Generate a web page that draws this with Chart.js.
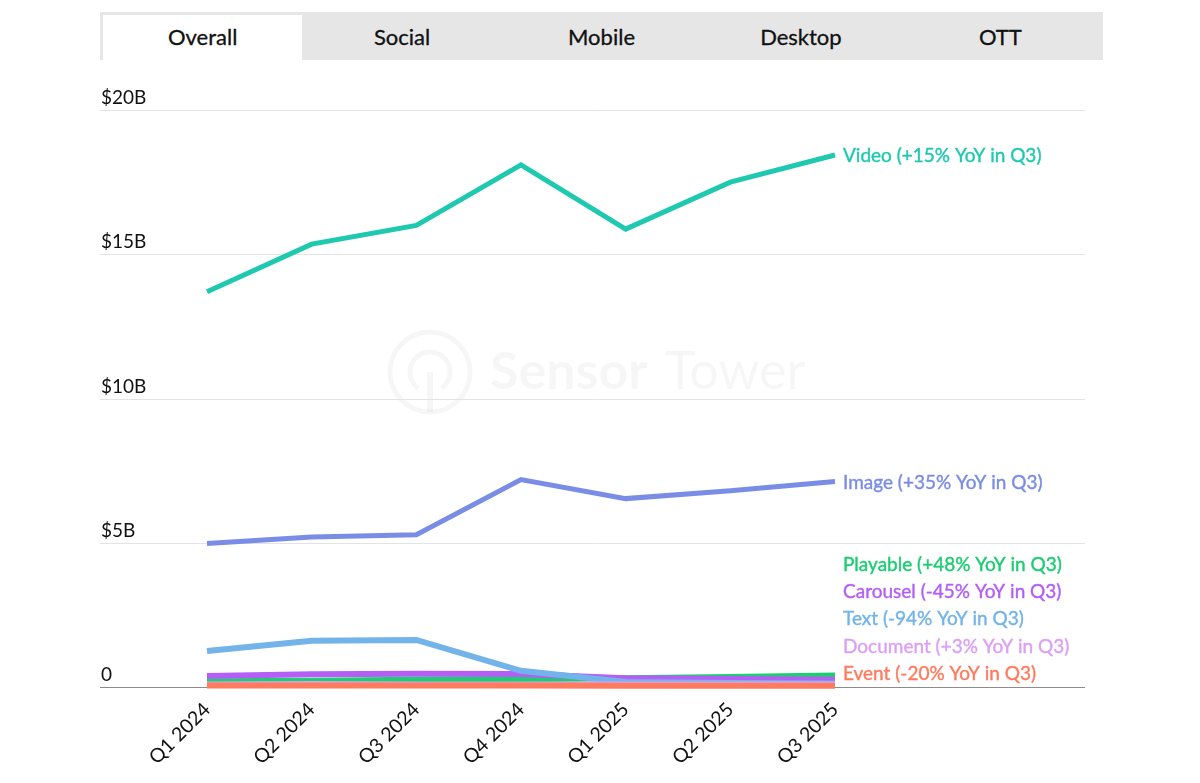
<!DOCTYPE html>
<html>
<head>
<meta charset="utf-8">
<script src="https://cdn.jsdelivr.net/npm/chart.js@4"></script>
<style>
  body { margin: 0; background: #fff; font-family: Lato, "Open Sans", sans-serif; }
  #wrap { position: relative; width: 1200px; height: 783px; }
  #tabs { position: absolute; left: 100px; top: 12px; width: 1003px; height: 48px; background: #e6e6e6; display: flex; box-sizing: border-box; padding: 3px 3px 0 3px; }
  #tabs div { flex: 1; text-align: center; line-height: 43px; font-size: 22px; color: #111; -webkit-text-stroke: 0.3px #111; }
  #tabs div.on { background: #fff; }
</style>
</head>
<body>
<div id="wrap">
  <canvas id="c" width="1200" height="783"></canvas>
  <div id="tabs">
    <div class="on">Overall</div><div>Social</div><div>Mobile</div><div>Desktop</div><div>OTT</div>
  </div>
</div>
<script>
var quarters = ['Q1 2024', 'Q2 2024', 'Q3 2024', 'Q4 2024', 'Q1 2025', 'Q2 2025', 'Q3 2025'];
var yTicks = [0, 5, 10, 15, 20];
var yTickLabels = ['0', '$5B', '$10B', '$15B', '$20B'];

// values in $B
var video    = [13.7, 15.35, 16.0, 18.1, 15.87, 17.5, 18.44];
var image    = [4.97, 5.2, 5.28, 7.19, 6.53, 6.8, 7.12];
var text     = [1.25, 1.6, 1.63, 0.56, 0.17, 0.14, 0.12];
var carousel = [0.38, 0.44, 0.46, 0.45, 0.3, 0.28, 0.25];
var playable = [0.2, 0.22, 0.25, 0.27, 0.3, 0.35, 0.4];
var documnt  = [0.09, 0.1, 0.09, 0.09, 0.09, 0.09, 0.09];
var eventAds = [0.05, 0.05, 0.05, 0.05, 0.04, 0.04, 0.04];

var series = [
  { name: 'Video (+15% YoY in Q3)', data: video, color: '#1fc9b0', w: 5 },
  { name: 'Image (+35% YoY in Q3)', data: image, color: '#7a8de6', w: 5 },
  { name: 'Playable (+48% YoY in Q3)', data: playable, color: '#1ccd72', w: 6 },
  { name: 'Carousel (-45% YoY in Q3)', data: carousel, color: '#b45ef6', w: 6 },
  { name: 'Text (-94% YoY in Q3)', data: text, color: '#72b4e9', w: 6 },
  { name: 'Document (+3% YoY in Q3)', data: documnt, color: '#dc9ff5', w: 6 },
  { name: 'Event (-20% YoY in Q3)', data: eventAds, color: '#ff7b5e', w: 6 }
];

var FONT = 'Lato, "Open Sans", sans-serif';

var gridPlugin = {
  id: 'grid',
  beforeDatasetsDraw: function(chart) {
    var ctx = chart.ctx, y = chart.scales.y;
    ctx.save();
    // watermark
    ctx.fillStyle = 'rgba(0,0,0,0.035)';
    ctx.strokeStyle = 'rgba(0,0,0,0.035)';
    ctx.lineWidth = 5;
    ctx.beginPath(); ctx.arc(430, 372, 40, 0, Math.PI * 2); ctx.stroke();
    ctx.beginPath(); ctx.arc(430, 372, 20, 0.7 * Math.PI, 2.3 * Math.PI); ctx.stroke();
    ctx.fillRect(427, 372, 6, 40);
    ctx.font = 'bold 52px ' + FONT;
    ctx.textBaseline = 'middle';
    ctx.fillText('Sensor', 490, 372);
    ctx.font = '52px ' + FONT;
    ctx.fillText('Tower', 665, 372);

    yTicks.forEach(function(v, i) {
      var py = Math.round(y.getPixelForValue(v)) + 0.5;
      ctx.strokeStyle = v === 0 ? '#8c8c8c' : '#e3e3e3';
      ctx.lineWidth = 1;
      ctx.beginPath(); ctx.moveTo(100, py); ctx.lineTo(1085, py); ctx.stroke();
      ctx.fillStyle = '#111';
      ctx.font = '19px ' + FONT;
      ctx.textBaseline = 'alphabetic';
      ctx.textAlign = 'left';
      ctx.fillText(yTickLabels[i], 101, py - 7);
    });
    ctx.restore();
  },
  afterDatasetsDraw: function(chart) {
    var ctx = chart.ctx, n = quarters.length - 1;
    var items = chart.data.datasets.map(function(ds, i) {
      var pt = chart.getDatasetMeta(i).data[n];
      return { label: ds.label, color: ds.borderColor, x: pt.x, y: pt.y };
    });
    // spread overlapping labels upward from the bottom
    var sorted = items.slice().sort(function(a, b) { return b.y - a.y; });
    var limit = chart.chartArea.bottom - 14;
    sorted.forEach(function(it) {
      it.ly = Math.min(it.y, limit);
      limit = it.ly - 27.4;
    });
    ctx.save();
    ctx.font = '19px ' + FONT;
    ctx.textAlign = 'left';
    ctx.textBaseline = 'middle';
    items.forEach(function(it) {
      ctx.fillStyle = it.color;
      ctx.strokeStyle = it.color;
      ctx.lineWidth = 0.4;
      ctx.fillText(it.label, it.x + 8, it.ly + 1);
      ctx.strokeText(it.label, it.x + 8, it.ly + 1);
    });
    ctx.restore();
  }
};

new Chart(document.getElementById('c'), {
  type: 'line',
  data: {
    labels: quarters,
    datasets: series.map(function(s, i) {
      return {
        label: s.name,
        data: s.data,
        borderColor: s.color,
        backgroundColor: s.color,
        borderWidth: s.w,
        pointRadius: 0,
        tension: 0,
        clip: false,
        order: i < 2 ? -10 - i : -i
      };
    })
  },
  options: {
    responsive: false,
    animation: false,
    layout: { padding: { left: 207, right: 365, top: 110, bottom: 0 } },
    plugins: { legend: { display: false }, tooltip: { enabled: false } },
    scales: {
      x: {
        offset: false,
        grid: { display: false },
        border: { display: false },
        ticks: { color: '#111', font: { family: FONT, size: 19.5 }, minRotation: 45, maxRotation: 45, padding: 3 },
        afterFit: function(s) { s.height = 96; }
      },
      y: {
        display: false,
        min: 0,
        max: 20
      }
    }
  },
  plugins: [gridPlugin]
});
</script>
</body>
</html>
